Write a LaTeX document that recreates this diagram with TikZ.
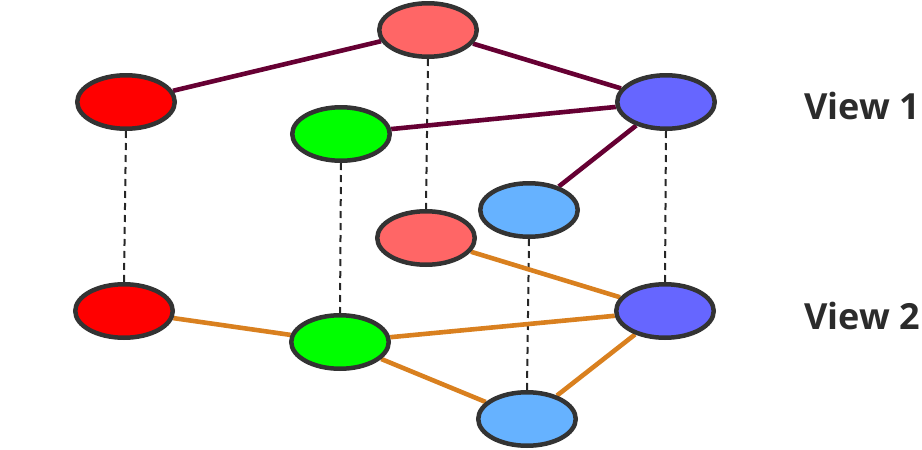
\documentclass[tikz,border=0pt]{standalone}
\usepackage{fontspec}
\setmainfont{Open Sans}
\usetikzlibrary{shapes.geometric}
\pgfdeclarelayer{bg}
\pgfsetlayers{bg,main}
\definecolor{cpink}{HTML}{FF6666}
\definecolor{cred}{HTML}{FF0000}
\definecolor{cblue}{HTML}{6666FF}
\definecolor{cgreen}{HTML}{00FF00}
\definecolor{clblue}{HTML}{66B2FF}
\definecolor{cborder}{HTML}{333333}
\definecolor{cmaroon}{HTML}{660033}
\definecolor{corange}{HTML}{D9801F}
\definecolor{ctext}{HTML}{2B2B2B}
\tikzset{
  vnode/.style={ellipse, draw=cborder, line width=4.5pt, minimum width=97.5pt, minimum height=53.5pt, inner sep=0pt},
  vone/.style={draw=cmaroon, line width=4.6pt},
  vtwo/.style={draw=corange, line width=4.6pt},
  vlink/.style={draw=black!85, line width=2pt, dash pattern=on 7pt off 5pt},
  vlabel/.style={font=\bfseries\fontsize{36}{40}\selectfont, text=ctext, inner sep=0pt}
}
\begin{document}
\begin{tikzpicture}[x=1pt,y=-1pt]
\useasboundingbox (0,0) rectangle (922,450);
% View 1
\node[vnode, fill=cpink]  (p1) at (428,30) {};
\node[vnode, fill=cred]   (r1) at (126,102) {};
\node[vnode, fill=cblue]  (b1) at (666,102) {};
\node[vnode, fill=cgreen] (g1) at (341,134) {};
\node[vnode, fill=clblue] (l1) at (529,210) {};
% View 2
\node[vnode, fill=cpink]  (p2) at (426,238) {};
\node[vnode, fill=cred]   (r2) at (124,311) {};
\node[vnode, fill=cblue]  (b2) at (665,311) {};
\node[vnode, fill=cgreen] (g2) at (340,342) {};
\node[vnode, fill=clblue] (l2) at (527,419) {};
% labels
\node[vlabel] (t1) at (862,106) {View 1};
\node[vlabel] (t2) at (862,316) {View 2};
\begin{pgfonlayer}{bg}
\draw[vlink] (r1.south) -- (r2.north);
\draw[vlink] (g1.south) -- (g2.north);
\draw[vlink] (p1.south) -- (p2.north);
\draw[vlink] (b1.south) -- (b2.north);
\draw[vlink] (l1.south) -- (l2.north);
\draw[vone] (p1) -- (r1);
\draw[vone] (p1) -- (b1);
\draw[vone] (g1) -- (b1);
\draw[vone] (b1) -- (l1);
\draw[vtwo] (p2) -- (b2);
\draw[vtwo] (r2) -- (g2);
\draw[vtwo] (g2) -- (b2);
\draw[vtwo] (g2) -- (l2);
\draw[vtwo] (l2) -- (b2);
\end{pgfonlayer}
\end{tikzpicture}
\end{document}
